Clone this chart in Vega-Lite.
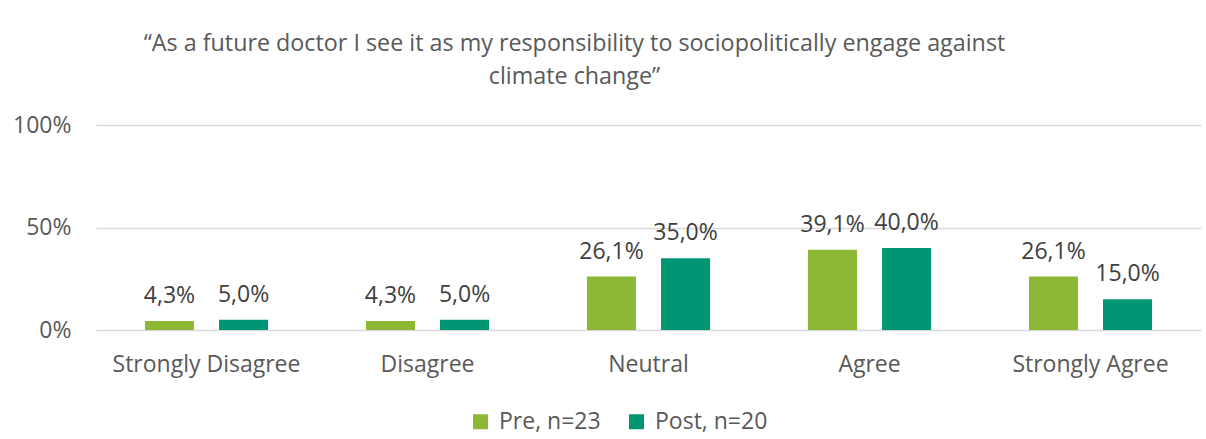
{
  "$schema": "https://vega.github.io/schema/vega-lite/v6.json",
  "width": 1105,
  "height": 205,
  "autosize": {"type": "none"},
  "padding": {"left": 96, "top": 125, "right": 5, "bottom": 109},
  "background": "white",
  "config": {
    "view": {"stroke": null},
    "font": "Open Sans",
    "locale": {"number": {"decimal": ",", "thousands": ".", "grouping": [3], "currency": ["", " €"]}}
  },
  "title": {
    "text": ["“As a future doctor I see it as my responsibility to sociopolitically engage against", "climate change”"],
    "fontSize": 23.3,
    "fontWeight": "normal",
    "color": "#595959",
    "lineHeight": 33,
    "anchor": "middle",
    "dx": -74,
    "offset": 25
  },
  "data": {
    "values": [
      {"answer": "Strongly Disagree", "group": "Pre, n=23", "share": 0.0435},
      {"answer": "Strongly Disagree", "group": "Post, n=20", "share": 0.05},
      {"answer": "Disagree", "group": "Pre, n=23", "share": 0.0435},
      {"answer": "Disagree", "group": "Post, n=20", "share": 0.05},
      {"answer": "Neutral", "group": "Pre, n=23", "share": 0.2609},
      {"answer": "Neutral", "group": "Post, n=20", "share": 0.35},
      {"answer": "Agree", "group": "Pre, n=23", "share": 0.3913},
      {"answer": "Agree", "group": "Post, n=20", "share": 0.40},
      {"answer": "Strongly Agree", "group": "Pre, n=23", "share": 0.2609},
      {"answer": "Strongly Agree", "group": "Post, n=20", "share": 0.15}
    ]
  },
  "encoding": {
    "x": {
      "field": "answer",
      "type": "nominal",
      "sort": ["Strongly Disagree", "Disagree", "Neutral", "Agree", "Strongly Agree"],
      "scale": {"paddingInner": 0.443, "paddingOuter": 0.2215},
      "axis": {
        "title": null,
        "labelAngle": 0,
        "labelFontSize": 23,
        "labelColor": "#595959",
        "labelPadding": 23,
        "labelLimit": 0,
        "labelOverlap": false,
        "ticks": false,
        "domain": false,
        "grid": false
      }
    },
    "xOffset": {
      "field": "group",
      "type": "nominal",
      "sort": ["Pre, n=23", "Post, n=20"],
      "scale": {"paddingInner": 0.338, "paddingOuter": 0}
    },
    "y": {
      "field": "share",
      "type": "quantitative",
      "scale": {"domain": [0, 1], "nice": false},
      "axis": {
        "title": null,
        "values": [0, 0.5, 1],
        "format": ".0%",
        "labelFontSize": 23,
        "labelColor": "#595959",
        "labelPadding": 25,
        "ticks": false,
        "domain": false,
        "grid": true,
        "gridColor": "#d9d9d9",
        "gridWidth": 1.5
      }
    }
  },
  "layer": [
    {
      "mark": {"type": "bar"},
      "encoding": {
        "color": {
          "field": "group",
          "type": "nominal",
          "sort": ["Pre, n=23", "Post, n=20"],
          "scale": {"domain": ["Pre, n=23", "Post, n=20"], "range": ["#8cb836", "#009673"]},
          "legend": {
            "title": null,
            "orient": "none",
            "direction": "horizontal",
            "legendX": 373,
            "legendY": 285,
            "symbolType": "square",
            "symbolSize": 225,
            "symbolStrokeWidth": 0,
            "labelFontSize": 23,
            "labelColor": "#595959",
            "labelOffset": 7,
            "columnPadding": 24
          }
        }
      }
    },
    {
      "mark": {"type": "text", "baseline": "alphabetic", "dy": -18, "fontSize": 23, "color": "#404040"},
      "encoding": {
        "text": {"field": "share", "type": "quantitative", "format": ".1%"}
      }
    }
  ]
}
